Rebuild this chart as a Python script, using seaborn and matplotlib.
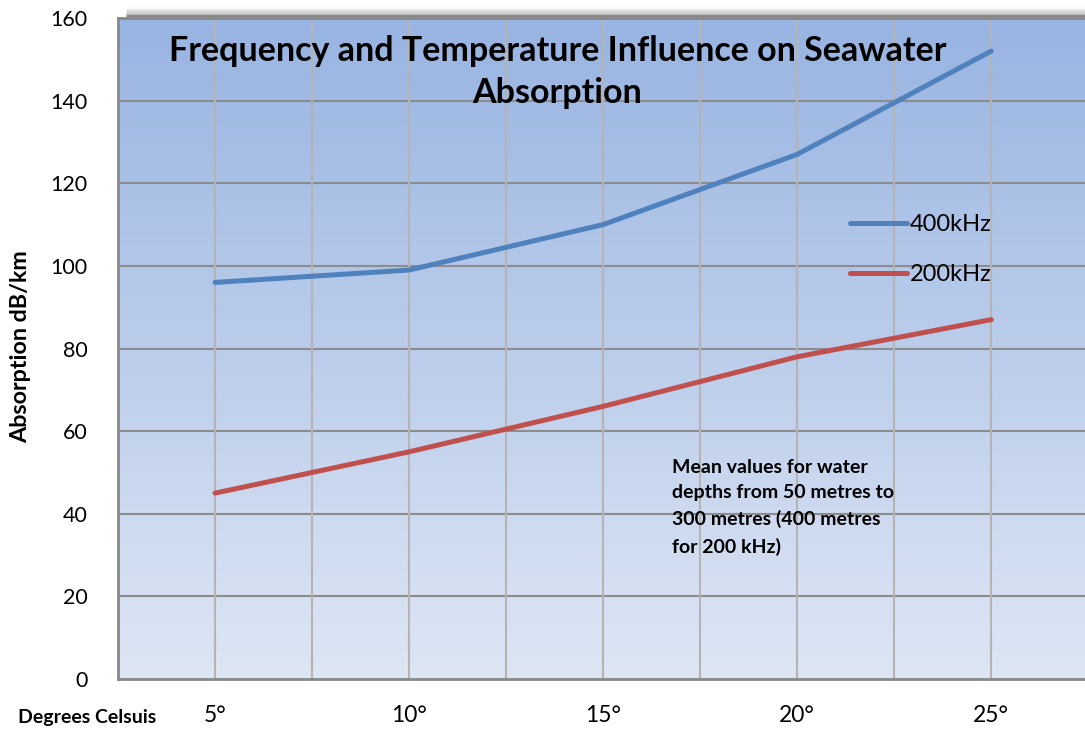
import numpy as np
import pandas as pd
import matplotlib
matplotlib.use("Agg")
import matplotlib.pyplot as plt
import seaborn as sns
from matplotlib.colors import LinearSegmentedColormap

temps = ["5°", "10°", "15°", "20°", "25°"]
abs_400 = [96, 99, 110, 127, 152]
abs_200 = [45, 55, 66, 78, 87]
series = ["400kHz", "200kHz"]
y_ticks = [0, 20, 40, 60, 80, 100, 120, 140, 160]

sns.set_theme(style="white")
plt.rcParams['font.family'] = ['Lato', 'DejaVu Sans']
plt.rcParams['text.color'] = 'black'
plt.rcParams['xtick.color'] = 'black'
plt.rcParams['ytick.color'] = 'black'
plt.rcParams['axes.labelcolor'] = 'black'

df = pd.DataFrame({
    "temp": temps * 2,
    "absorption": abs_400 + abs_200,
    "series": [series[0]] * len(temps) + [series[1]] * len(temps),
})

fig = plt.figure(figsize=(10.85, 7.36), dpi=100)
ax = fig.add_axes([0.1088, 0.0774, 0.8912 + 0.003, 0.8981])

# gradient background
cmap = LinearSegmentedColormap.from_list("bg", ["#dee6f4", "#98b4e2"])
grad = np.linspace(0, 1, 256).reshape(-1, 1)
ax.imshow(grad, extent=[0, 1, 0, 1], transform=ax.transAxes, cmap=cmap,
          origin="lower", aspect="auto", zorder=0)

sns.lineplot(data=df, x="temp", y="absorption", hue="series",
             palette={"400kHz": "#4f81bd", "200kHz": "#c0504d"},
             linewidth=3.6, ax=ax, zorder=3, legend=True, sort=False)

ax.set_xlim(-0.5, 4.5)
ax.set_ylim(0, 160)
ax.set_yticks(y_ticks)
ax.set_yticklabels([str(v) for v in y_ticks], fontsize=15.5, color="black")
ax.set_xticks(range(len(temps)))
ax.set_xticklabels(temps, fontsize=16.5, color="black")
ax.tick_params(axis="x", pad=19, length=0)
ax.tick_params(axis="y", pad=22, length=0)

# grid
for yv in y_ticks[1:-1]:
    ax.axhline(yv, color="#8c8c8c", lw=1.5, zorder=1)
for xv in np.arange(-0.5, 4.6, 0.5)[1:]:
    ax.axvline(xv, color="#b4b4b4", lw=1.5, zorder=1)

for s in ["left", "bottom", "top"]:
    ax.spines[s].set_color("#888888")
    ax.spines[s].set_linewidth(2)
    ax.spines[s].set_zorder(4)
ax.spines["right"].set_visible(False)

ax.set_xlabel("")
ax.set_ylabel("")
fig.text(0.019, 0.5285, "Absorption dB/km", fontsize=16.8, fontweight="bold",
         rotation=90, ha="center", va="center", color="black")

fig.text(0.017, 0.025, "Degrees Celsuis", fontsize=14, fontweight="bold",
         ha="left", va="center", color="black")

ax.text(0.453, 0.975, "Frequency and Temperature Influence on Seawater\nAbsorption",
        transform=ax.transAxes, ha="center", va="top", fontsize=24.5,
        fontweight="bold", linespacing=1.4, zorder=5, color="black")

ax.text(0.571, 0.333, "Mean values for water\ndepths from 50 metres to\n300 metres (400 metres\nfor 200 kHz)",
        transform=ax.transAxes, ha="left", va="top", fontsize=14,
        fontweight="bold", linespacing=1.6, zorder=5, color="black")

leg = ax.legend(loc="upper left", bbox_to_anchor=(0.733, 0.735), frameon=False,
                fontsize=17, handlelength=2.4, handletextpad=0.1,
                labelspacing=1.2, title=None)
for line in leg.get_lines():
    line.set_linewidth(3.6)
for t in leg.get_texts():
    t.set_color("black")

# drop shadow above the plot area
for i, a in enumerate([0.35, 0.25, 0.17, 0.11, 0.06, 0.03]):
    ax.plot([0.008, 1], [1 + 0.0025 * (i + 1)] * 2, transform=ax.transAxes,
            color="black", alpha=a, lw=1.8, clip_on=False, zorder=0,
            solid_capstyle="butt")

fig.savefig("out.png", dpi=100)
